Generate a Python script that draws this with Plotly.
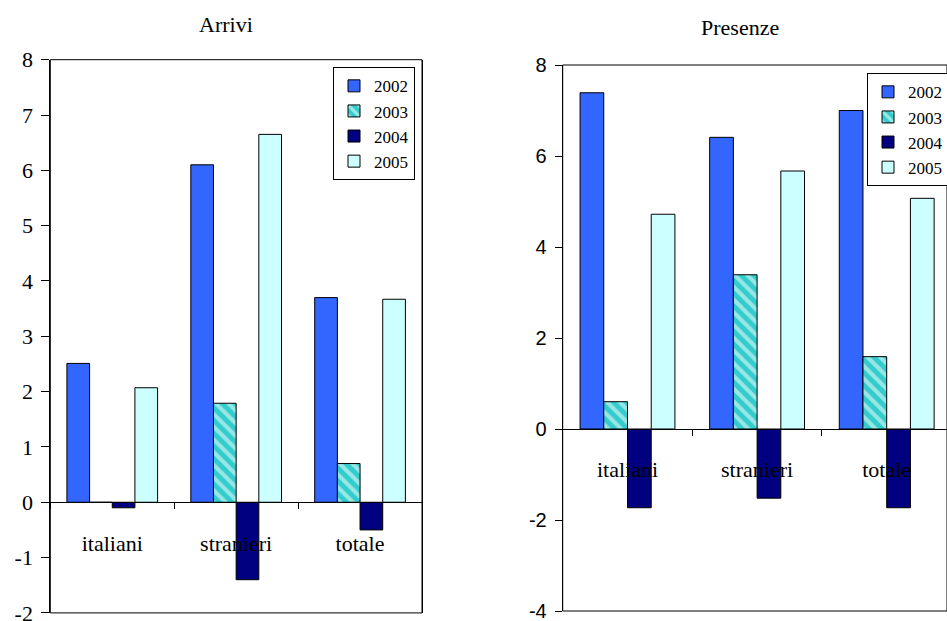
import plotly.graph_objects as go

# Categories and years
categories = ["italiani", "stranieri", "totale"]
years = ["2002", "2003", "2004", "2005"]

# Arrivi: percentage change by year
arrivi_2002 = [2.51, 6.10, 3.70]
arrivi_2003 = [0.0, 1.79, 0.70]
arrivi_2004 = [-0.10, -1.40, -0.50]
arrivi_2005 = [2.07, 6.65, 3.67]

# Presenze: percentage change by year
presenze_2002 = [7.39, 6.41, 7.00]
presenze_2003 = [0.60, 3.39, 1.59]
presenze_2004 = [-1.73, -1.52, -1.73]
presenze_2005 = [4.72, 5.67, 5.07]

# Axis tick labels
arrivi_ticks = [-2, -1, 0, 1, 2, 3, 4, 5, 6, 7, 8]
presenze_ticks = [-4, -2, 0, 2, 4, 6, 8]

colors = ["#3366FF", "#33CCCC", "#000080", "#CCFFFF"]
SERIF = "Liberation Serif, Times New Roman, serif"
SANS = "Liberation Sans, Arial, sans-serif"

W, H = 947, 621

arrivi = [arrivi_2002, arrivi_2003, arrivi_2004, arrivi_2005]
presenze = [presenze_2002, presenze_2003, presenze_2004, presenze_2005]

fig = go.Figure()


def marker_for(i):
    m = dict(color=colors[i], line=dict(color="black", width=1))
    if i == 1:
        m["pattern"] = dict(shape="\\", fgcolor="white", size=9, solidity=0.45)
    return m


for i, year in enumerate(years):
    fig.add_trace(go.Bar(
        x=categories, y=arrivi[i], name=year, marker=marker_for(i),
        xaxis="x", yaxis="y", legend="legend",
    ))
for i, year in enumerate(years):
    fig.add_trace(go.Bar(
        x=categories, y=presenze[i], name=year, marker=marker_for(i),
        xaxis="x2", yaxis="y2", legend="legend2",
    ))

# plot-area geometry in pixels
L_x0, L_x1, L_ytop, L_ybot = 50.3, 422, 59.7, 612.9
R_x0, R_ytop, R_ybot = 562.7, 65, 611
R_cat_w = 129.6


def yfrac(py):
    return (H - py) / H


left_zero = L_ybot - (L_ybot - L_ytop) * (0 - (-2)) / 10
right_zero = R_ybot - (R_ybot - R_ytop) * (0 - (-4)) / 12
right_span = (W - R_x0) / R_cat_w

cat_axis = dict(
    showline=True, linecolor="black", linewidth=1,
    ticks="outside", tickson="boundaries", ticklen=6, tickcolor="black",
    showgrid=False, zeroline=False, ticklabelstandoff=21,
    tickfont=dict(family=SERIF, size=22, color="black"),
)
val_axis = dict(
    tickmode="array", showline=True, linecolor="black", linewidth=1,
    ticks="outside", tickcolor="black", showgrid=False, zeroline=False,
    ticklabeloverflow="allow",
)
legend_style = dict(
    xanchor="left", yanchor="top",
    bordercolor="black", borderwidth=1, bgcolor="white",
    font=dict(family=SERIF, size=17, color="black"),
    tracegroupgap=0, itemwidth=30,
)

fig.update_layout(
    width=W, height=H,
    margin=dict(l=0, r=0, t=0, b=0, autoexpand=False),
    paper_bgcolor="white", plot_bgcolor="white",
    barmode="group", bargap=0.268, bargroupgap=0,
    showlegend=True,
    xaxis=dict(
        domain=[L_x0 / W, L_x1 / W], anchor="free", position=yfrac(left_zero),
        range=[-0.5, 2.5], **cat_axis,
    ),
    yaxis=dict(
        domain=[yfrac(L_ybot), yfrac(L_ytop)], anchor="x", range=[-2, 8],
        tickvals=arrivi_ticks, ticktext=[str(t) for t in arrivi_ticks],
        mirror=True, ticklen=8, ticklabelstandoff=4,
        tickfont=dict(family=SERIF, size=22, color="black"), **val_axis,
    ),
    xaxis2=dict(
        domain=[R_x0 / W, 1.0], anchor="free", position=yfrac(right_zero),
        range=[-0.5, -0.5 + right_span], **cat_axis,
    ),
    yaxis2=dict(
        domain=[yfrac(R_ybot), yfrac(R_ytop)], anchor="x2", range=[-4, 8],
        tickvals=presenze_ticks, ticktext=[str(t) for t in presenze_ticks],
        ticklen=7, ticklabelstandoff=4,
        tickfont=dict(family=SANS, size=20, color="black"), **val_axis,
    ),
    legend=dict(x=333 / W, y=yfrac(67.3), **legend_style),
    legend2=dict(x=867 / W, y=yfrac(73.3), **legend_style),
    annotations=[
        dict(text="Arrivi", x=226 / W, y=yfrac(24.5), xref="paper",
             yref="paper", xanchor="center", yanchor="middle", showarrow=False,
             font=dict(family=SERIF, size=22, color="black")),
        dict(text="Presenze", x=740 / W, y=yfrac(28), xref="paper",
             yref="paper", xanchor="center", yanchor="middle", showarrow=False,
             font=dict(family=SERIF, size=22, color="black")),
    ],
    shapes=[
        dict(type="rect", xref="x domain", yref="y domain", x0=0, x1=1,
             y0=0, y1=1, line=dict(color="black", width=1)),
        dict(type="rect", xref="x2 domain", yref="y2 domain", x0=0, x1=1,
             y0=0, y1=1, line=dict(color="black", width=1)),
    ],
)

fig.write_html("out.html")
